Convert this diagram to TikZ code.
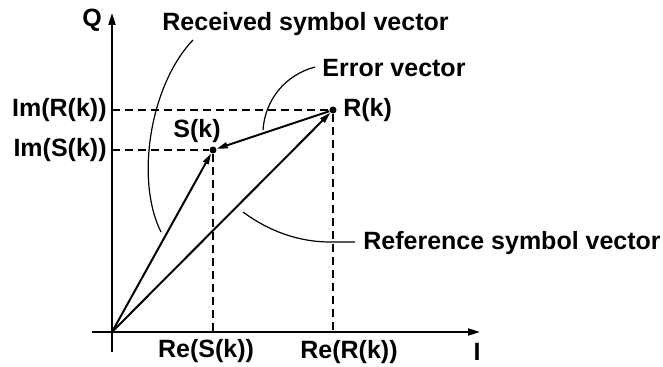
\documentclass[tikz,border=0pt]{standalone}
\usepackage{fontspec}
\setmainfont{Liberation Sans}
\usetikzlibrary{arrows.meta}
\usetikzlibrary{positioning}

\begin{document}
\begin{tikzpicture}[
x=0.5pt, y=-0.5pt,
font=\fontsize{12.5}{15}\selectfont\bfseries,
axis/.style={
line width=1pt,
-{Triangle[length=6pt,width=3.5pt]}
},
vec/.style={
line width=1pt,
-{Triangle[length=5.5pt,width=3pt]}
},
guide/.style={
line width=0.6pt,
dash pattern=on 4pt off 2.5pt
},
leader/.style={line width=0.6pt},
dot/.style={
circle,
fill,
inner sep=0pt,
minimum size=3.5pt
},
lbl/.style={inner sep=0pt}
]
\useasboundingbox (0,0) rectangle (663,367);

\coordinate (O) at (112,332);
\coordinate (xl) at (92,332);
\coordinate (xr) at (480,332);
\coordinate (yb) at (112,352);
\coordinate (yt) at (112,13);

\node[dot] (R) at (333,110) {};
\node[dot] (S) at (213,150) {};

% axes
\draw[axis] (xl) -- (xr);
\draw[axis] (yb) -- (yt);
\node[lbl] (Q) at (92,20) {Q};
\node[lbl] (I) at (477,352) {I};

% projections
\draw[guide] (O |- R) -- (R) -- (R |- O);
\draw[guide] (O |- S) -- (S) -- (S |- O);

\node[lbl, anchor=east] (imR) at (107,110) {Im(R(k))};
\node[lbl, anchor=east] (imS) at (107,150) {Im(S(k))};
\node[lbl] (reS) at (206,351) {Re(S(k))};
\node[lbl] (reR) at (349,352) {Re(R(k))};

% vectors
\draw[vec] (O) -- (S);
\draw[vec] (O) -- (R);
\draw[vec] (R) -- (S);

\node[lbl] (sk) at (197,131) {S(k)};
\node[lbl, right=3pt of R] (rk) {R(k)};

% captions and leaders
\node[lbl, anchor=base west] (recv) at (162,31) {Received symbol vector};
\node[lbl, anchor=base west] (err) at (322,77) {Error vector};
\node[lbl, anchor=base west] (ref) at (363,250) {Reference symbol vector};

\coordinate (recvA) at (193,40);
\coordinate (recvB) at (161,232);
\coordinate (errA) at (315,67);
\coordinate (errB) at (263,130);
\coordinate (refA) at (243,212);
\coordinate (refB) at (355,242);

\draw[leader] (recvA) .. controls (150,85) and (135,180) .. (recvB);
\draw[leader] (errA) .. controls (285,75) and (265,100) .. (errB);
\draw[leader] (refA) .. controls (270,232) and (300,242) .. (330,242) -- (refB);

\end{tikzpicture}
\end{document}
